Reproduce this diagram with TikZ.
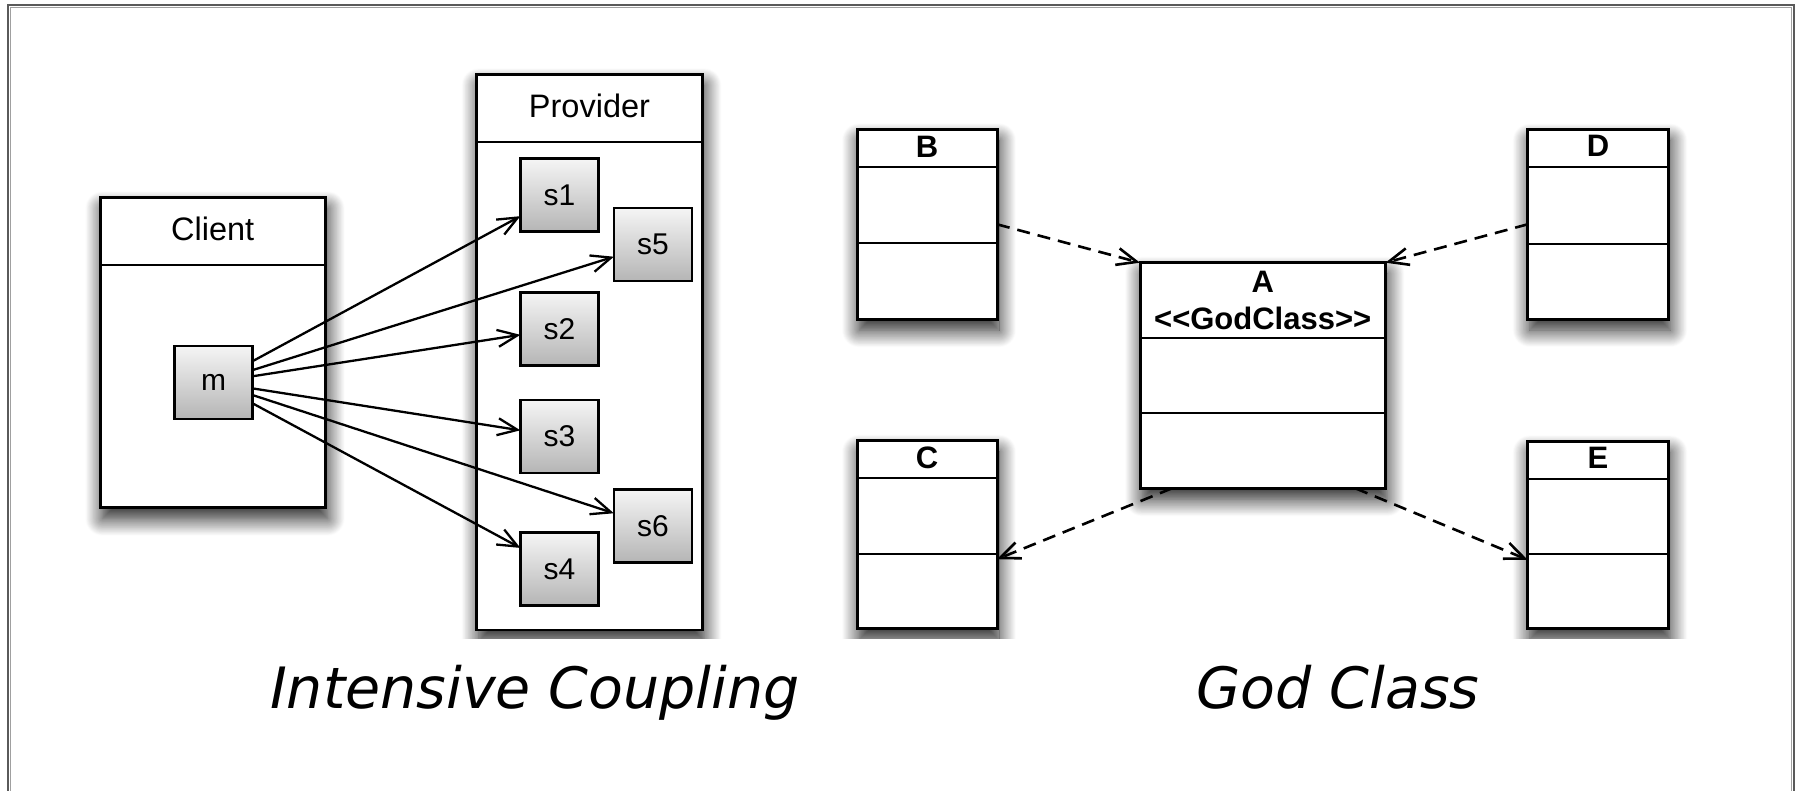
\documentclass[tikz,border=0pt]{standalone}
\usepackage{fontspec}
\setmainfont{Liberation Sans}
\newfontfamily\titlefont{DejaVu Sans}
\newfontfamily\classfont{Liberation Sans}
\usetikzlibrary{arrows.meta,shadows.blur}

\definecolor{frameDark}{HTML}{5A5A5A}
\definecolor{frameLight}{HTML}{A0A0A0}
\definecolor{opTop}{HTML}{F5F5F5}
\definecolor{opBottom}{HTML}{B5B5B5}

\tikzset{
  boxshadow/.style={blur shadow={shadow xshift=2pt, shadow yshift=-11pt,
      shadow blur radius=17pt, shadow blur steps=20, shadow opacity=90}},
  panel/.style={draw, line width=2.8pt, fill=white, rectangle, inner sep=0pt,
      outer sep=0pt, anchor=north west, boxshadow},
  opbox/.style={draw, line width=2.4pt, rectangle, inner sep=0pt, outer sep=0pt,
      minimum width=78pt, minimum height=73pt, top color=opTop, bottom color=opBottom,
      font=\fontsize{30}{32}\selectfont},
  divider/.style={line width=2pt},
  headlabel/.style={anchor=base, font=\fontsize{32.5}{36}\selectfont},
  classlabel/.style={anchor=base, font=\classfont\bfseries\fontsize{31}{33}\selectfont},
  calls/.style={line width=2.3pt, -{Straight Barb[length=20pt,width=17pt]}},
  depends/.style={line width=2.6pt, dash pattern=on 13pt off 8pt,
      -{Straight Barb[length=20pt,width=17pt]}},
  caption/.style={anchor=base, font=\titlefont\itshape\fontsize{57}{60}\selectfont},
}

% UML class with a header and two compartments:
% name, x, y (top left), width, height, first divider, second divider
\newcommand\umlclassbox[7]{%
  \node[panel, line width=3pt, minimum width=#4pt, minimum height=#5pt] (#1) at (#2,#3) {};
  \draw[divider] ([yshift=-#6pt]#1.north west) -- ([yshift=-#6pt]#1.north east);
  \draw[divider] ([yshift=-#7pt]#1.north west) -- ([yshift=-#7pt]#1.north east);
}

\begin{document}
\begin{tikzpicture}[x=1pt, y=-1pt]
\useasboundingbox (0,0) rectangle (1796,790);

% frame
\draw[line width=2.6pt, frameDark] (8,800) -- (8,5) -- (1793.8,5) -- (1793.8,800);
\draw[line width=1pt, frameLight] (10.6,800) -- (10.6,7.5) -- (1791.2,7.5) -- (1791.2,800);

\begin{scope}
\clip (0,0) rectangle (1796,638);

% ---- Intensive Coupling ----
\node[panel, minimum width=225.3pt, minimum height=310.4pt] (client) at (100.4,197.3) {};
\draw[divider] ([yshift=-67.7pt]client.north west) -- ([yshift=-67.7pt]client.north east);
\node[headlabel] (client-name) at (212.7,240) {Client};

\node[panel, minimum width=225.7pt, minimum height=555.7pt] (provider) at (476.7,74.3) {};
\draw[divider] ([yshift=-67.7pt]provider.north west) -- ([yshift=-67.7pt]provider.north east);
\node[headlabel] (provider-name) at (589.5,117) {Provider};

\node[opbox] (m) at (213.5,382.3) {m};
\node[opbox] (s1) at (559.4,195.1) {s1};
\node[opbox] (s5) at (652.9,244.5) {s5};
\node[opbox] (s2) at (559.4,328.8) {s2};
\node[opbox] (s3) at (559.4,436.4) {s3};
\node[opbox] (s6) at (652.9,526) {s6};
\node[opbox] (s4) at (559.4,568.9) {s4};

\foreach \s in {s1,s5,s2,s3,s6,s4}
  \draw[calls] (m) -- (\s);

% ---- God Class ----
\umlclassbox{B}{857}{129.3}{140}{190}{37.4}{114}
\umlclassbox{C}{857}{440.7}{140}{188}{37.6}{113.7}
\umlclassbox{D}{1527.7}{129.6}{140.6}{189.4}{37.2}{114}
\umlclassbox{E}{1527.7}{441.3}{140.6}{187}{37.2}{112.9}
\umlclassbox{A}{1140}{262.7}{245.4}{225.6}{75}{150.6}

\node[classlabel] (B-name) at ([yshift=-27.8pt]B.north) {B};
\node[classlabel] (C-name) at ([yshift=-27.8pt]C.north) {C};
\node[classlabel] (D-name) at ([yshift=-27.3pt]D.north) {D};
\node[classlabel] (E-name) at ([yshift=-27.2pt]E.north) {E};
\node[classlabel] (A-name) at ([yshift=-29.5pt]A.north) {A};
\node[classlabel] (A-stereo) at ([yshift=-66.5pt]A.north) {<<GodClass>>};

\draw[depends] (B.east) -- (A.north west);
\draw[depends] (D.west) -- (A.north east);
\draw[depends] ([xshift=32pt]A.south west) -- ([yshift=-24.5pt]C.east);
\draw[depends] ([xshift=-30pt]A.south east) -- ([yshift=-25pt]E.west);
\end{scope}

% captions
\node[caption] (cap-coupling) at (535,708.3) {Intensive Coupling};
\node[caption] (cap-god) at (1338,708.3) {God Class};
\end{tikzpicture}
\end{document}
